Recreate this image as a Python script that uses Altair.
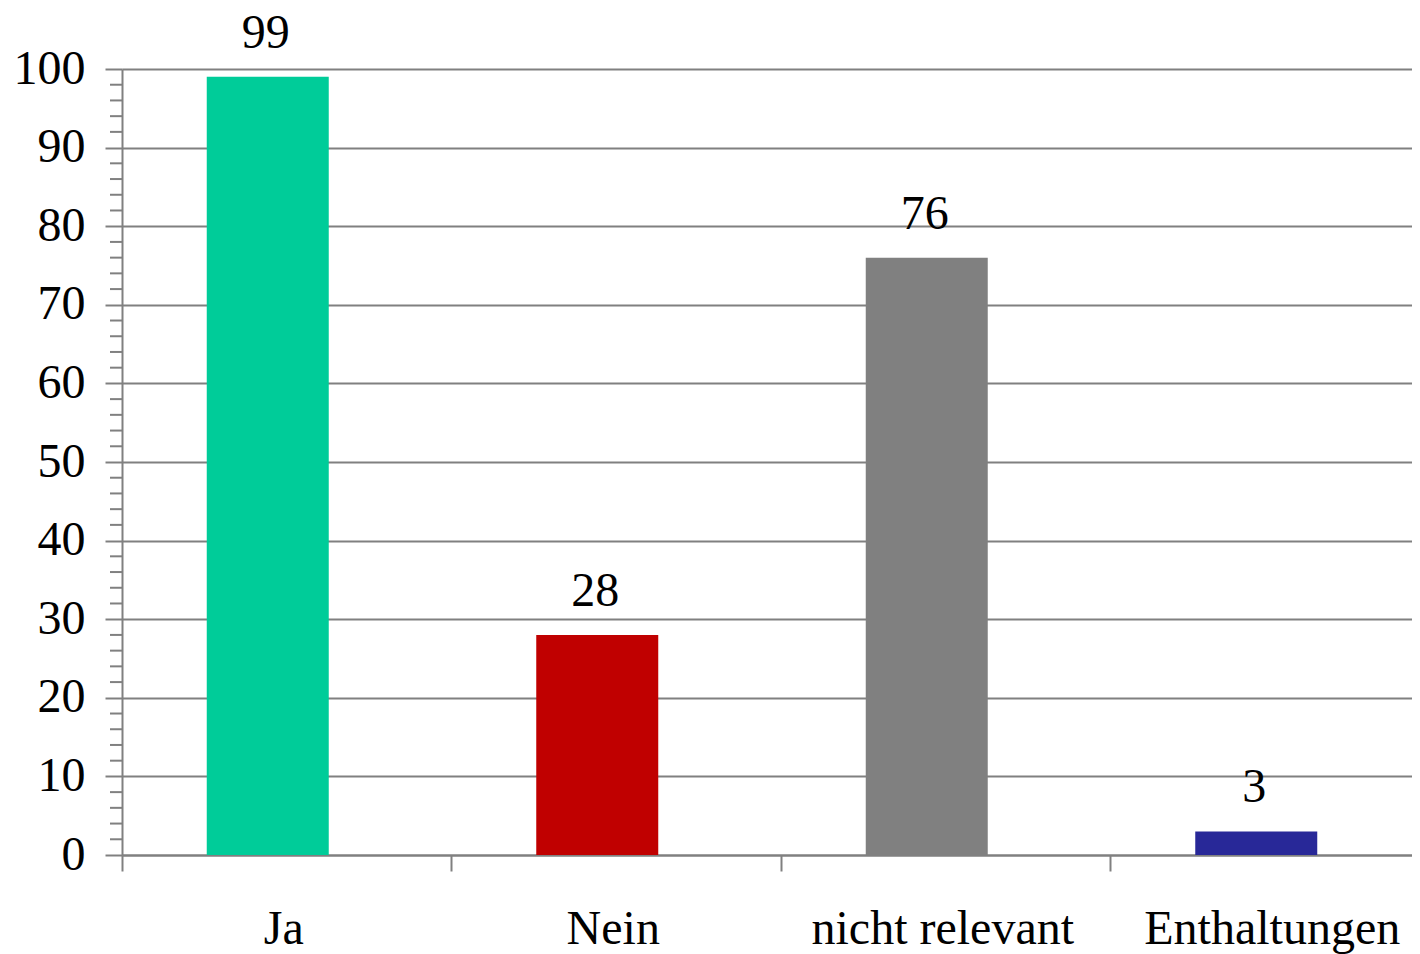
import altair as alt
import pandas as pd

# Data
categories = ["Ja", "Nein", "nicht relevant", "Enthaltungen"]
values = [99, 28, 76, 3]
bar_colors = ["#00CC99", "#C00000", "#808080", "#282898"]
y_major_ticks = list(range(0, 101, 10))
y_minor_ticks = [v for v in range(0, 101, 2) if v % 10 != 0]

df = pd.DataFrame({"cat": categories, "val": values, "color": bar_colors})
minor_df = pd.DataFrame({"v": y_minor_ticks})

FONT = "Liberation Serif"
GRAY = "#808080"
FS = 48

x_enc = alt.X(
    "cat:N",
    sort=categories,
    scale=alt.Scale(paddingInner=0, paddingOuter=0, range=[0, 1318]),
    axis=alt.Axis(
        title=None,
        bandPosition=0,
        labelOffset=-3,
        labelLimit=0,
        tickSize=16,
        tickColor=GRAY,
        tickWidth=2,
        domainColor=GRAY,
        domainWidth=2,
        labelFont=FONT,
        labelFontSize=FS,
        labelColor="black",
        labelPadding=34,
        labelAngle=0,
        grid=False,
    ),
)

y_enc = alt.Y(
    "val:Q",
    scale=alt.Scale(domain=[0, 100], nice=False),
    axis=alt.Axis(
        title=None,
        values=y_major_ticks,
        tickSize=17,
        tickColor=GRAY,
        tickWidth=2,
        grid=True,
        gridColor=GRAY,
        gridWidth=2,
        domainColor=GRAY,
        domainWidth=2,
        labelFont=FONT,
        labelFontSize=FS,
        labelColor="black",
        labelPadding=20,
    ),
)

bars = alt.Chart(df).mark_bar(width=122, xOffset=-19).encode(
    x=x_enc,
    y=y_enc,
    color=alt.Color("color:N", scale=None),
)

labels = alt.Chart(df).mark_text(
    dx=-21, dy=-29, baseline="alphabetic", align="center",
    font=FONT, fontSize=FS, color="black",
).encode(
    x=alt.X("cat:N", sort=categories),
    y=alt.Y("val:Q"),
    text=alt.Text("val:Q"),
)

minor = alt.Chart(minor_df).mark_rule(color=GRAY, strokeWidth=2).encode(
    y=alt.Y("v:Q"),
    x=alt.value(-12),
    x2=alt.value(0),
)

chart = alt.layer(bars, labels, minor).properties(
    width=1290,
    height=786,
    autosize=alt.AutoSizeParams(type="none"),
    padding={"left": 114, "top": 61, "right": 0, "bottom": 100},
    background="white",
).configure_view(stroke=None)

chart.save("out.html", embed_options={"renderer": "svg", "actions": False})
